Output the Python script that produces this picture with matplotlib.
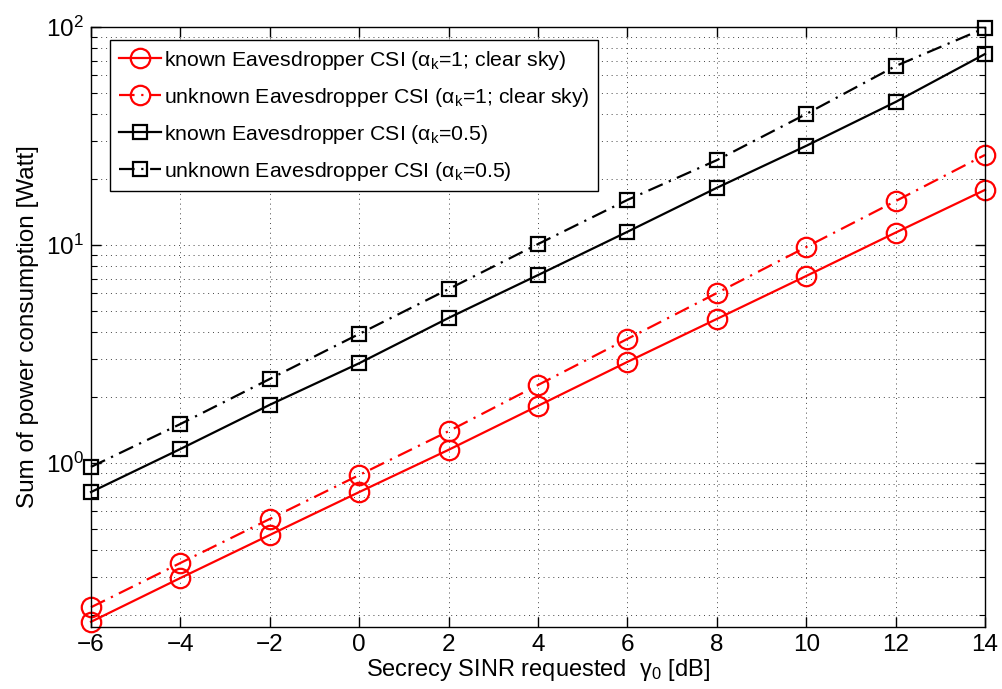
import matplotlib
matplotlib.use("Agg")
import matplotlib.pyplot as plt
from matplotlib.ticker import LogLocator, NullFormatter, MultipleLocator

plt.rcParams['font.family'] = ['Liberation Sans', 'DejaVu Sans']
plt.rcParams['mathtext.fontset'] = 'custom'
plt.rcParams['mathtext.rm'] = 'Liberation Sans'
plt.rcParams['mathtext.it'] = 'Liberation Sans:italic'

# Requested secrecy SINR gamma_0 [dB]
gamma_db = [-6, -4, -2, 0, 2, 4, 6, 8, 10, 12, 14]

# Sum of power consumption [Watt]
known_clear = [0.187, 0.297, 0.468, 0.736, 1.15, 1.83, 2.91, 4.58, 7.21, 11.4, 17.9]
unknown_clear = [0.218, 0.348, 0.554, 0.881, 1.40, 2.28, 3.71, 6.02, 9.79, 15.9, 25.9]
known_half = [0.736, 1.16, 1.85, 2.87, 4.63, 7.28, 11.5, 18.3, 28.5, 45.3, 75.2]
unknown_half = [0.96, 1.51, 2.43, 3.91, 6.28, 10.1, 16.1, 24.5, 39.9, 66.2, 98.9]

labels = [
    r'known Eavesdropper CSI (α$_{\mathrm{k}}$=1; clear sky)',
    r'unknown Eavesdropper CSI (α$_{\mathrm{k}}$=1; clear sky)',
    r'known Eavesdropper CSI (α$_{\mathrm{k}}$=0.5)',
    r'unknown Eavesdropper CSI (α$_{\mathrm{k}}$=0.5)',
]

fig = plt.figure(figsize=(10.02, 6.89), dpi=100)
ax = fig.add_axes([91 / 1002, 62 / 689, 894 / 1002, 600 / 689])

dashdot = (7, 3, 1, 3)
lw = 1.6
ax.plot(gamma_db, known_clear, color='red', lw=lw, marker='o', ms=14,
        mfc='none', mew=1.6, label=labels[0], clip_on=False)
ax.plot(gamma_db, unknown_clear, color='red', lw=lw, marker='o', ms=14,
        mfc='none', mew=1.6, dashes=dashdot, label=labels[1], clip_on=False)
ax.plot(gamma_db, known_half, color='black', lw=lw, marker='s', ms=10,
        mfc='none', mew=1.6, label=labels[2], clip_on=False)
ax.plot(gamma_db, unknown_half, color='black', lw=lw, marker='s', ms=10,
        mfc='none', mew=1.6, dashes=dashdot, label=labels[3], clip_on=False)

ax.set_yscale('log')
ax.set_xlim(-6, 14)
ax.set_ylim(0.177, 100)
ax.xaxis.set_major_locator(MultipleLocator(2))
ax.yaxis.set_major_locator(LogLocator(base=10))
ax.yaxis.set_minor_locator(LogLocator(base=10, subs=range(2, 10)))
ax.yaxis.set_minor_formatter(NullFormatter())

ax.grid(True, which='major', axis='both', ls=(0, (1, 4)), color='#444444', lw=0.7)
ax.grid(True, which='minor', axis='y', ls=(0, (1, 4)), color='#444444', lw=0.7)

ax.tick_params(which='both', direction='in', top=True, right=True, labelsize=17.5)
ax.tick_params(which='major', length=7, width=1, pad=5)
ax.tick_params(which='minor', length=4, width=0.8)
for s in ax.spines.values():
    s.set_linewidth(1.0)

ax.set_xlabel(r'Secrecy SINR requested  γ$_{0}$ [dB]', fontsize=17, labelpad=1)
ax.set_ylabel('Sum of power consumption [Watt]', fontsize=17.5, labelpad=5)

leg = ax.legend(loc='upper left', bbox_to_anchor=(19 / 894, 587 / 600),
                borderaxespad=0, fancybox=False, edgecolor='black',
                fontsize=15.3, handlelength=2.0, handletextpad=0.15,
                labelspacing=0.66, borderpad=0.4, framealpha=1)
leg.get_frame().set_linewidth(1.0)

fig.savefig('out.png', dpi=100)
